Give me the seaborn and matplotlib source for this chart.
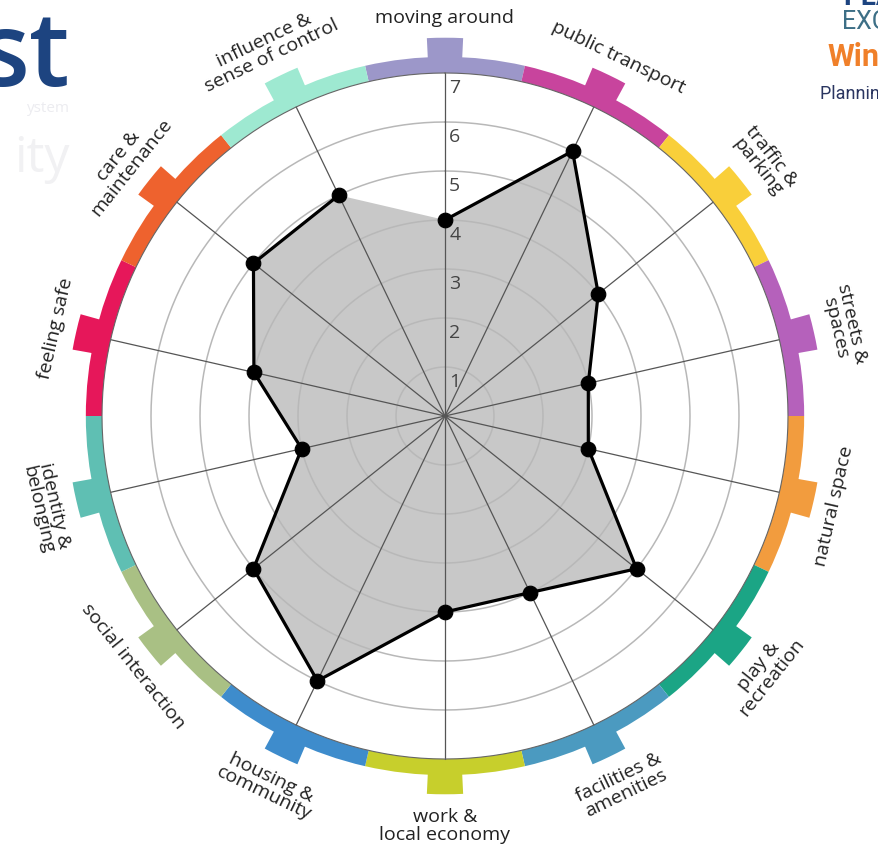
import numpy as np
import pandas as pd
import matplotlib.pyplot as plt
import seaborn as sns

categories = ['moving around', 'public transport', 'traffic &\nparking', 'streets &\nspaces',
              'natural space', 'play &\nrecreation', 'facilities &\namenities',
              'work &\nlocal economy', 'housing &\ncommunity', 'social interaction',
              'identity &\nbelonging', 'feeling safe', 'care &\nmaintenance',
              'influence &\nsense of control']
scores = [4, 6, 4, 3, 3, 5, 4, 4, 6, 5, 3, 4, 5, 5]
colours = ['#9c97c9', '#c8449d', '#f9cf3a', '#b561bb', '#f29c3e', '#1ba585', '#4b9ac0',
           '#c7cf2c', '#3e8ccc', '#a9c084', '#5fbfb3', '#e6175a', '#ee622e', '#9ee9d1']
ring_labels = ['1', '2', '3', '4', '5', '6', '7']

sns.set_theme(style='white')
plt.rcParams['font.family'] = ['Open Sans', 'DejaVu Sans']

n = len(categories)
angles = np.arange(n) * 2 * np.pi / n
df = pd.DataFrame({'category': categories, 'score': scores, 'angle': angles})
closed_a = np.append(angles, angles[0])
closed_s = np.append(scores, scores[0])

W, H = 879, 853
cx, cy, unit, rmax = 445, 417, 49, 8
fig = plt.figure(figsize=(W / 100, H / 100), dpi=100)
ax = fig.add_axes([(cx - rmax * unit) / W, (H - cy - rmax * unit) / H,
                   2 * rmax * unit / W, 2 * rmax * unit / H], projection='polar')
ax.set_theta_zero_location('N')
ax.set_theta_direction(-1)

# coloured outer band with a tab on every spoke
ax.bar(angles, 0.33, width=2 * np.pi / n, bottom=7.0, color=colours, linewidth=0, zorder=2)
ax.bar(angles, 0.72, width=np.radians(5.5), bottom=7.0, color=colours, linewidth=0, zorder=2)

# score area
ax.fill(closed_a, closed_s, color='#c8c8c8', lw=0, zorder=1)

# grid
circ = np.linspace(0, 2 * np.pi, 361)
for k in range(1, 7):
    ax.plot(circ, np.full_like(circ, k), color='#b8b8b8', lw=1.1, zorder=2)
ax.plot(circ, np.full_like(circ, 7), color='#666666', lw=0.8, zorder=3)
for a in angles:
    ax.plot([a, a], [0, 7], color='#555555', lw=0.9, zorder=2)

sns.lineplot(x=closed_a, y=closed_s, sort=False, color='black', lw=2.3, ax=ax, zorder=4)
sns.scatterplot(data=df, x='angle', y='score', color='black', s=110, edgecolor='black',
                legend=False, ax=ax, zorder=5)

for k, lab in enumerate(ring_labels, 1):
    ax.annotate(lab, xy=(0, k - 0.29), xytext=(3, 0), textcoords='offset points',
                ha='left', va='center', fontsize=14, color='#444444', zorder=6)

for cat, a in zip(categories, angles):
    deg = np.degrees(a)
    rot = -deg if (deg < 90 or deg > 270) else 180 - deg
    r = 8.35 if '\n' in cat else 8.15
    ax.text(a, r, cat, rotation=rot, rotation_mode='anchor', ha='center', va='center',
            fontsize=14, color='#222222', linespacing=0.95, clip_on=False)

ax.set_ylim(0, rmax)
ax.set_xticks([])
ax.set_yticks([])
ax.set_xlabel('')
ax.set_ylabel('')
ax.grid(False)
ax.spines['polar'].set_visible(False)
ax.set_facecolor('none')

# bits of logos cut off at the page edges
fig.text(70 / W, 1 - 86 / H, 'st', ha='right', va='baseline', fontsize=74,
         color='#1d4480', fontweight='semibold')
fig.text(70 / W, 1 - 112 / H, 'ystem', ha='right', va='baseline', fontsize=11, color='#ececf0')
fig.text(70 / W, 1 - 172 / H, 'ity', ha='right', va='baseline', fontsize=36, color='#f1f1f3')
fig.text(843 / W, 1 - 5 / H, 'PLACE', ha='left', va='baseline', fontsize=20,
         color='#1d4480', fontweight='bold', family='Roboto')
fig.text(842 / W, 1 - 29 / H, 'EXCELLENCE', ha='left', va='baseline', fontsize=18,
         color='#3d6f86', family='Roboto')
fig.text(827 / W, 1 - 66 / H, 'Winner', ha='left', va='baseline', fontsize=22,
         color='#f0802a', fontweight='bold', family='Roboto')
fig.text(820 / W, 1 - 99 / H, 'Planning Awards', ha='left', va='baseline', fontsize=13,
         color='#2a3560', family='Roboto')

fig.savefig('out.png', dpi=100, facecolor='white')
